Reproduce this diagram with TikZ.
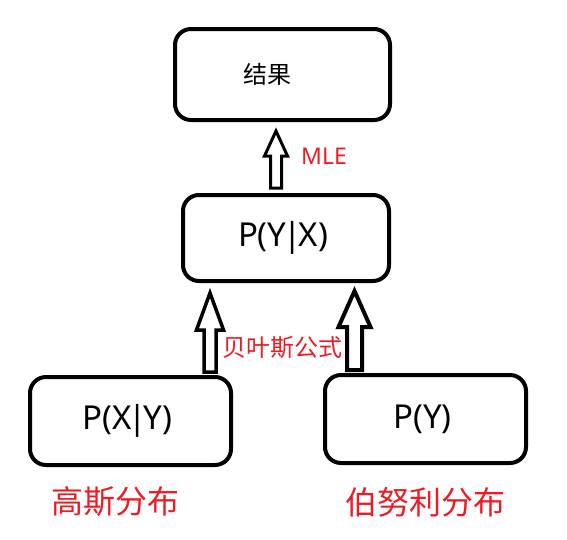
\documentclass[tikz,border=0pt]{standalone}
\usepackage{fontspec}
\setmainfont{Noto Sans}
\newfontfamily\cjk{Noto Sans CJK SC}
\definecolor{pred}{HTML}{ED1C24}
\tikzset{
  box/.style={draw=black, line width=4pt, rounded corners=16pt, inner sep=0pt, fill=white},
  bigtxt/.style={font=\fontsize{33}{40}\selectfont},
  redlbl/.style={text=pred, inner sep=0pt},
  blockarr/.style={draw=black, line width=3.5pt, line join=miter, fill=white},
}
\newcommand{\myblockarrow}[7]{% cx, tip, headbase, bottom, shafthalf, headhalf, width
  \draw[blockarr, line width=#7]
    (#1-#5,#4) -- (#1-#5,#3) -- (#1-#6,#3) -- (#1,#2) -- (#1+#6,#3) -- (#1+#5,#3) -- (#1+#5,#4) -- cycle;}
\newcommand{\tbar}{\kern-3pt|\kern-3pt}
\begin{document}
\begin{tikzpicture}[x=1pt,y=-1pt]
\useasboundingbox (0,0) rectangle (567,539);
% boxes
\node[box, minimum width=215pt, minimum height=91pt, font=\cjk\fontsize{24}{28}\selectfont] (res) at (282.5,74.5) {结果\hspace*{30pt}};
\node[box, minimum width=206pt, minimum height=86pt, bigtxt] (pyx) at (286,238) {P(Y\tbar X)\hspace*{6pt}};
\node[box, minimum width=201pt, minimum height=88pt, bigtxt] (pxy) at (130.5,421) {P(X\tbar Y)\hspace*{6pt}};
\node[box, minimum width=201pt, minimum height=88pt, bigtxt] (py) at (425.5,419) {P(Y)\hspace*{6pt}};
% block arrows
\myblockarrow{276}{131}{156}{188}{5.5}{11.5}{3pt}
\myblockarrow{210}{293}{330}{372}{6}{13.5}{3.5pt}
\myblockarrow{354.5}{291}{327}{370}{7.5}{16}{4pt}
% labels
\node[redlbl, font=\fontsize{23}{28}\selectfont] (mle) at (324,156) {MLE};
\node[redlbl, font=\cjk\fontsize{24}{28}\selectfont] (bayes) at (282,348) {贝叶斯公式};
\node[redlbl, font=\cjk\fontsize{32}{38}\selectfont] (gauss) at (115,502) {高斯分布};
\node[redlbl, font=\cjk\fontsize{32}{38}\selectfont] (bern) at (425,502) {伯努利分布};
\end{tikzpicture}
\end{document}
